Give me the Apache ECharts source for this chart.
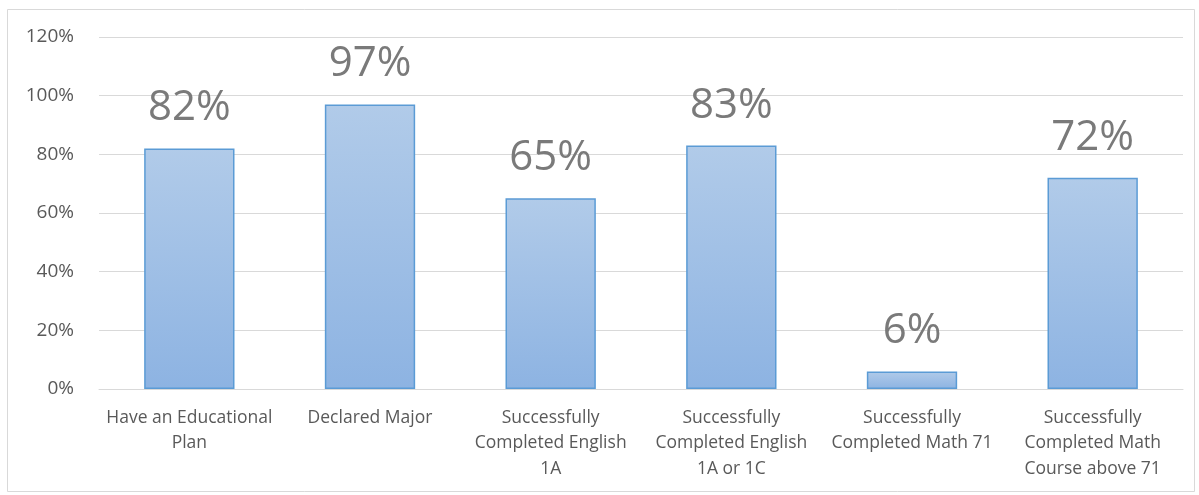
<!DOCTYPE html>
<html>
<head>
<meta charset="utf-8">
<style>
  html, body { margin: 0; padding: 0; background: #ffffff; }
  #chart { width: 1199px; height: 495px; }
</style>
<script src="https://cdn.jsdelivr.net/npm/echarts@6/dist/echarts.min.js"></script>
</head>
<body>
<div id="chart"></div>
<script>
// Category labels (line breaks where the axis wraps them)
const categories = [
  'Have an Educational\nPlan',
  'Declared Major',
  'Successfully\nCompleted English\n1A',
  'Successfully\nCompleted English\n1A or 1C',
  'Successfully\nCompleted Math 71',
  'Successfully\nCompleted Math\nCourse above 71'
];
// Share of students, in percent
const values = [82, 97, 65, 83, 6, 72];
// Value axis ticks, in percent
const yTicks = [0, 20, 40, 60, 80, 100, 120];

const chart = echarts.init(document.getElementById('chart'));
const fontFamily = '"Open Sans", "Noto Sans", sans-serif';

chart.setOption({
  animation: false,
  backgroundColor: '#ffffff',
  graphic: [{
    type: 'rect',
    left: 5, top: 7,
    shape: { width: 1187, height: 482 },
    style: { fill: 'none', stroke: '#d9d9d9', lineWidth: 1 },
    silent: true
  }],
  grid: { left: 99, right: 16, top: 37, bottom: 106 },
  xAxis: {
    type: 'category',
    data: categories,
    axisLine: { lineStyle: { color: '#d9d9d9', width: 1 } },
    axisTick: { show: false },
    axisLabel: {
      interval: 0,
      color: '#595959',
      fontFamily: fontFamily,
      fontSize: 17.5,
      lineHeight: 25.5,
      margin: 16
    }
  },
  yAxis: {
    type: 'value',
    min: yTicks[0],
    max: yTicks[yTicks.length - 1],
    interval: yTicks[1] - yTicks[0],
    axisLine: { show: false },
    axisTick: { show: false },
    splitLine: { lineStyle: { color: '#d9d9d9', width: 1 } },
    axisLabel: {
      color: '#595959',
      fontFamily: fontFamily,
      fontSize: 19,
      margin: 25,
      formatter: v => v + '%'
    }
  },
  series: [{
    type: 'bar',
    data: values,
    barWidth: '50%',
    itemStyle: {
      color: new echarts.graphic.LinearGradient(0, 0, 0, 1, [
        { offset: 0, color: '#b1cbe9' },
        { offset: 1, color: '#8db3e2' }
      ]),
      borderColor: '#5b9bd5',
      borderWidth: 1.5
    },
    label: {
      show: true,
      position: 'top',
      distance: 19,
      color: '#7a7a7a',
      fontFamily: fontFamily,
      fontSize: 42,
      formatter: p => p.value + '%'
    }
  }]
});
</script>
</body>
</html>
